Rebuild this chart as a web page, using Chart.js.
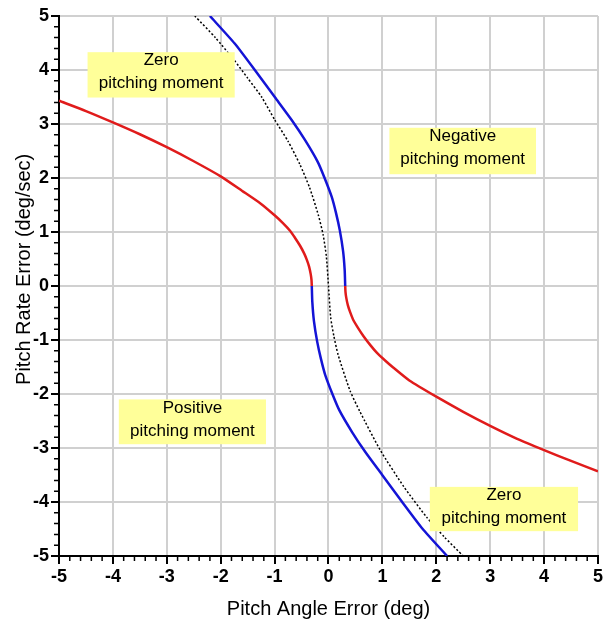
<!DOCTYPE html>
<html>
<head>
<meta charset="utf-8">
<script src="https://cdn.jsdelivr.net/npm/chart.js@4.4.0/dist/chart.umd.min.js"></script>
<style>
  html, body { margin: 0; padding: 0; background: #fff; }
  #wrap { width: 605px; height: 625px; }
</style>
</head>
<body>
<div id="wrap"><canvas id="myChart" width="605" height="625"></canvas></div>
<script>
// switching curve, left branch (red) then its continuation below the axis (blue)
const redLeftX = [-5, -4.5, -4, -3.5, -3, -2.5, -2, -1.6, -1.25, -1.0, -0.85, -0.71, -0.62, -0.53, -0.45, -0.4, -0.36, -0.33, -0.315, -0.31];
const redLeftY = [3.43, 3.24, 3.03, 2.81, 2.57, 2.31, 2.03, 1.76, 1.52, 1.31, 1.17, 1.02, 0.89, 0.75, 0.6, 0.48, 0.36, 0.22, 0.11, 0];
const blueLowerX = [-0.31, -0.3, -0.27, -0.21, -0.14, -0.06, 0.08, 0.2, 0.44, 0.68, 0.99, 1.36, 1.74, 2.2];
const blueLowerY = [0, -0.3, -0.65, -1.03, -1.35, -1.65, -2.02, -2.3, -2.71, -3.07, -3.49, -3.99, -4.49, -5];

// switching curve, upper branch (blue) then its continuation to the right (red)
const blueUpperX = [-2.2, -1.74, -1.36, -0.99, -0.68, -0.44, -0.2, -0.08, 0.06, 0.14, 0.21, 0.27, 0.3, 0.31];
const blueUpperY = [5, 4.49, 3.99, 3.49, 3.07, 2.71, 2.3, 2.02, 1.65, 1.35, 1.03, 0.65, 0.3, 0];
const redRightX = [0.31, 0.315, 0.33, 0.36, 0.4, 0.46, 0.55, 0.65, 0.78, 0.9, 1.05, 1.2, 1.5, 2.0, 2.5, 3.0, 3.5, 4.0, 4.5, 5];
const redRightY = [0, -0.11, -0.22, -0.36, -0.48, -0.63, -0.78, -0.93, -1.1, -1.24, -1.38, -1.51, -1.75, -2.05, -2.33, -2.59, -2.83, -3.04, -3.24, -3.43];

// dotted boundary through the origin
const boundaryX = [-2.48, -2.1, -1.74, -1.5, -1.24, -1.0, -0.75, -0.53, -0.35, -0.19, -0.1, -0.04, 0, 0.04, 0.1, 0.18, 0.4, 0.58, 0.96, 1.4, 1.82, 2.15, 2.5];
const boundaryY = [5, 4.6, 4.17, 3.85, 3.5, 3.08, 2.68, 2.25, 1.82, 1.32, 0.95, 0.55, 0, -0.58, -0.93, -1.28, -1.94, -2.32, -3.04, -3.72, -4.28, -4.65, -5];

const regionTexts = [
  ['Zero', 'pitching moment'],
  ['Negative', 'pitching moment'],
  ['Positive', 'pitching moment'],
  ['Zero', 'pitching moment']
];

const axisMin = -5;
const axisMax = 5;
const minorStep = 0.2;

const FONT = '"Liberation Sans", Arial, Helvetica, sans-serif';

const toPoints = (xs, ys) => xs.map((x, i) => ({ x: x, y: ys[i] }));

// label boxes, in data units (left, right, top, bottom)
const regionBoxes = [
  { x0: -4.47, x1: -1.74, y0: 4.33, y1: 3.49 },
  { x0: 1.13, x1: 3.85, y0: 2.93, y1: 2.07 },
  { x0: -3.89, x1: -1.16, y0: -2.1, y1: -2.93 },
  { x0: 1.88, x1: 4.63, y0: -3.72, y1: -4.54 }
];

const regionLabels = {
  id: 'regionLabels',
  afterDatasetsDraw(chart) {
    const { ctx, scales: { x, y } } = chart;
    ctx.save();
    ctx.font = '17px ' + FONT;
    ctx.textAlign = 'center';
    ctx.textBaseline = 'middle';
    regionBoxes.forEach((b, i) => {
      const left = x.getPixelForValue(b.x0);
      const right = x.getPixelForValue(b.x1);
      const top = y.getPixelForValue(b.y0);
      const bottom = y.getPixelForValue(b.y1);
      ctx.fillStyle = '#ffff99';
      ctx.fillRect(left, top, right - left, bottom - top);
      ctx.fillStyle = '#000';
      const cx = (left + right) / 2;
      ctx.fillText(regionTexts[i][0], cx, top + 8.5);
      ctx.fillText(regionTexts[i][1], cx, top + 31.5);
    });
    ctx.restore();
  }
};

const minorTicks = {
  id: 'minorTicks',
  afterDraw(chart) {
    const { ctx, chartArea, scales: { x, y } } = chart;
    ctx.save();
    ctx.strokeStyle = '#000';
    ctx.lineWidth = 1.5;
    ctx.beginPath();
    const n = Math.round((axisMax - axisMin) / minorStep);
    for (let i = 0; i <= n; i++) {
      const v = axisMin + i * minorStep;
      if (Math.abs(v - Math.round(v)) < 1e-6) continue;
      const px = x.getPixelForValue(v);
      ctx.moveTo(px, chartArea.bottom);
      ctx.lineTo(px, chartArea.bottom + 5);
      const py = y.getPixelForValue(v);
      ctx.moveTo(chartArea.left - 5, py);
      ctx.lineTo(chartArea.left, py);
    }
    ctx.stroke();
    ctx.restore();
  }
};

const solidLine = (label, color, xs, ys) => ({
  label: label,
  data: toPoints(xs, ys),
  showLine: true,
  borderColor: color,
  backgroundColor: color,
  borderWidth: 2.5,
  pointRadius: 0,
  tension: 0.2
});

const axisBase = {
  type: 'linear',
  min: axisMin,
  max: axisMax,
  ticks: {
    stepSize: 1,
    color: '#000',
    padding: 2,
    maxRotation: 0,
    autoSkip: false,
    font: { family: FONT, size: 18, weight: 'bold' }
  },
  grid: {
    color: '#d0d0d0',
    lineWidth: 2,
    tickColor: '#000',
    tickWidth: 2,
    tickLength: 8
  },
  border: { color: '#000', width: 2 }
};

const myChart = new Chart(document.getElementById('myChart'), {
  type: 'scatter',
  data: {
    datasets: [
      {
        label: 'boundary',
        data: toPoints(boundaryX, boundaryY),
        showLine: true,
        borderColor: '#000',
        borderWidth: 1.5,
        borderDash: [2, 2],
        pointRadius: 0,
        tension: 0.2
      },
      solidLine('left red', '#e01b1b', redLeftX, redLeftY),
      solidLine('lower blue', '#1414d6', blueLowerX, blueLowerY),
      solidLine('upper blue', '#1414d6', blueUpperX, blueUpperY),
      solidLine('right red', '#e01b1b', redRightX, redRightY)
    ]
  },
  options: {
    responsive: false,
    animation: false,
    layout: { padding: { top: 16, right: 7, left: 0, bottom: 0 } },
    plugins: {
      legend: { display: false },
      tooltip: { enabled: false }
    },
    scales: {
      x: Object.assign({}, axisBase, {
        position: 'bottom',
        title: {
          display: true,
          text: 'Pitch Angle Error (deg)',
          color: '#000',
          font: { family: FONT, size: 20 },
          padding: { top: 0, bottom: 4 }
        },
        afterFit: s => { s.height = 69; }
      }),
      y: Object.assign({}, axisBase, {
        position: 'left',
        title: {
          display: true,
          text: '      Pitch Rate Error (deg/sec)',
          color: '#000',
          font: { family: FONT, size: 20 },
          padding: { top: 12, bottom: 0 }
        },
        afterFit: s => { s.width = 59; }
      })
    }
  },
  plugins: [regionLabels, minorTicks]
});
</script>
</body>
</html>
